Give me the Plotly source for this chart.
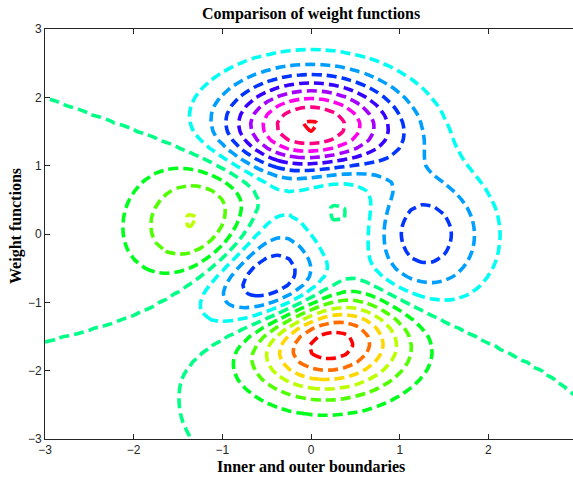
import colorsys
import numpy as np
import plotly.graph_objects as go

# ---- data -------------------------------------------------------------
# sample grid (49 x 49 points on [-3, 3], as in MATLAB's peaks)
grid_x = np.linspace(-3, 3, 49)
grid_y = np.linspace(-3, 3, 49)
# peaks surface term coefficients
term_amplitudes = [3.0, -10.0, -1.0 / 3.0]
# contour levels drawn
contour_levels = list(range(-6, 9))
x_tick_values = [-3, -2, -1, 0, 1, 2]
y_tick_values = [-3, -2, -1, 0, 1, 2, 3]

title_text = "Comparison of weight functions"
x_title = "Inner and outer boundaries"
y_title = "Weight functions"

# ---- surface ----------------------------------------------------------
X, Y = np.meshgrid(grid_x, grid_y)
Z = (term_amplitudes[0] * (1 - X) ** 2 * np.exp(-X ** 2 - (Y + 1) ** 2)
     + term_amplitudes[1] * (X / 5 - X ** 3 - Y ** 5) * np.exp(-X ** 2 - Y ** 2)
     + term_amplitudes[2] * np.exp(-(X + 1) ** 2 - Y ** 2))

# MATLAB-like hsv colormap (64 colours)
n_map = 64
hsv_scale = []
for i in range(n_map):
    r, g, b = colorsys.hsv_to_rgb(i / n_map, 1, 1)
    hsv_scale.append([i / (n_map - 1),
                      "rgb(%d,%d,%d)" % (round(r * 255), round(g * 255), round(b * 255))])

fig = go.Figure()
fig.add_trace(go.Contour(
    x=grid_x, y=grid_y, z=Z,
    zauto=False, zmin=float(Z.min()), zmax=float(Z.max()),
    colorscale=hsv_scale, showscale=False,
    autocontour=False,
    contours=dict(start=contour_levels[0], end=contour_levels[-1], size=1,
                  coloring="lines", showlabels=False),
    line=dict(width=3.6, dash="10px,5px", smoothing=0.6),
    hoverinfo="skip",
))

axis_font = dict(family="Liberation Sans, Arial, sans-serif", size=12, color="#262626")
title_font = dict(family="Liberation Serif, Times New Roman, serif", size=16, color="black")

W, H = 573, 479
fig.update_layout(
    width=W, height=H,
    margin=dict(l=45, r=0, t=29, b=40),
    paper_bgcolor="white", plot_bgcolor="white",
    showlegend=False,
    xaxis=dict(range=[-3, 2.954], tickvals=x_tick_values, automargin=False,
               showgrid=False, zeroline=False,
               showline=True, linecolor="#262626", linewidth=1, mirror="ticks",
               ticks="inside", ticklen=5, tickcolor="#262626",
               tickfont=axis_font),
    yaxis=dict(range=[-3, 3], tickvals=y_tick_values, automargin=False,
               showgrid=False, zeroline=False,
               showline=True, linecolor="#262626", linewidth=1,
               ticks="inside", ticklen=5, tickcolor="#262626",
               tickfont=axis_font),
    annotations=[
        dict(text="<b>" + title_text + "</b>", xref="paper", yref="paper",
             x=(311 - 45) / (W - 45), y=1 + (29 - 14) / (H - 69),
             xanchor="center", yanchor="middle", showarrow=False, font=title_font),
        dict(text="<b>" + x_title + "</b>", xref="paper", yref="paper",
             x=(311 - 45) / (W - 45), y=-(466 - 439) / (H - 69),
             xanchor="center", yanchor="middle", showarrow=False, font=title_font),
        dict(text="<b>" + y_title + "</b>", xref="paper", yref="paper",
             x=-(45 - 16) / (W - 45), y=(439 - 226) / (H - 69), textangle=-90,
             xanchor="center", yanchor="middle", showarrow=False, font=title_font),
    ],
)

fig.write_html("out.html", config={"displayModeBar": False},
               post_script="document.body.style.margin='0px';document.body.style.overflow='hidden';")
